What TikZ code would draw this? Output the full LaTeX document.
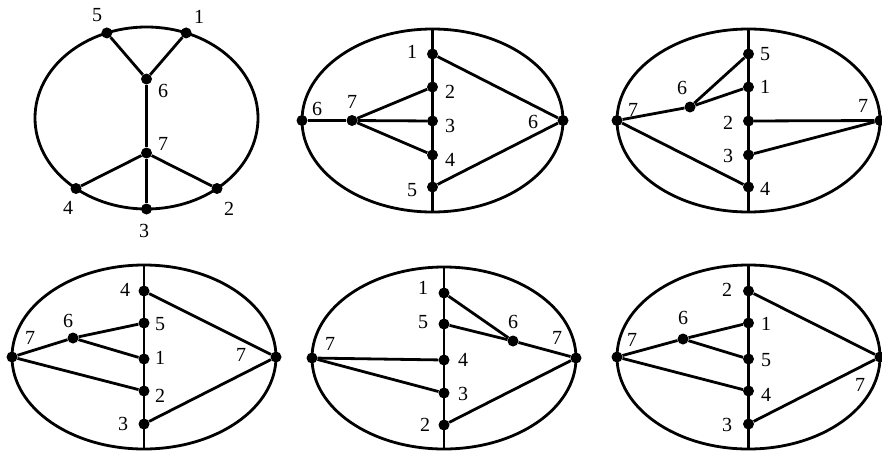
\documentclass[tikz,border=0pt]{standalone}
\usepackage{fontspec}
\setmainfont{Liberation Serif}
\usetikzlibrary{shapes.geometric}

\begin{document}
\begin{tikzpicture}[x=1pt, y=-1pt,
    rim/.style={ellipse, draw, line width=2.8pt, outer sep=0pt, inner sep=0pt},
    big/.style={rim, minimum width=263pt, minimum height=183pt},
    vtx/.style={circle, fill, inner sep=0pt, minimum size=11pt},
    edge/.style={line width=2.8pt},
    lbl/.style={inner sep=1pt, font=\fontsize{20}{20}\selectfont}]

    \useasboundingbox (0,0) rectangle (882,455);

    % panel 1
    \node[rim, minimum width=223pt, minimum height=182pt] (ea) at (146.5,118) {};
    \node[vtx] (a5) at (ea.115) {};
    \node[vtx] (a1) at (ea.65) {};
    \node[vtx] (a4) at (ea.225) {};
    \node[vtx] (a2) at (ea.315) {};
    \node[vtx] (a3) at (ea.south) {};
    \node[vtx] (a6) at (146.5,79) {};
    \node[vtx] (a7) at (146.5,153) {};
    \foreach \u/\v in {a5/a6, a1/a6, a6/a7, a7/a4, a7/a2, a7/a3}
        \draw[edge] (\u) -- (\v);
    \node[lbl] (la5) at (97,15) {5};
    \node[lbl] (la1) at (199,17) {1};
    \node[lbl] (la6) at (163,91) {6};
    \node[lbl] (la7) at (163,144) {7};
    \node[lbl] (la4) at (68,208) {4};
    \node[lbl] (la2) at (229,209) {2};
    \node[lbl] (la3) at (144,231) {3};

    % panel 2
    \node[big, minimum width=261pt] (eb) at (432.5,120.5) {};
    \draw[edge] (eb.north) -- (eb.south);
    \node[vtx] (b1) at (432.5,54) {};
    \node[vtx] (b2) at (432.5,87) {};
    \node[vtx] (b3) at (432.5,121) {};
    \node[vtx] (b4) at (432.5,155) {};
    \node[vtx] (b5) at (432.5,187) {};
    \node[vtx] (b6l) at (eb.west) {};
    \node[vtx] (b6r) at (eb.east) {};
    \node[vtx] (b7) at (352,120.5) {};
    \foreach \u/\v in {b6l/b7, b7/b2, b7/b3, b7/b4, b1/b6r, b5/b6r}
        \draw[edge] (\u) -- (\v);
    \node[lbl] (lb1) at (412,52) {1};
    \node[lbl] (lb2) at (450,92) {2};
    \node[lbl] (lb3) at (450,126) {3};
    \node[lbl] (lb4) at (450,160) {4};
    \node[lbl] (lb5) at (412,190) {5};
    \node[lbl] (lb6l) at (317,109) {6};
    \node[lbl] (lb7) at (352,102) {7};
    \node[lbl] (lb6r) at (533,122) {6};

    % panel 3
    \node[big] (ec) at (748.5,120.5) {};
    \draw[edge] (ec.north) -- (ec.south);
    \node[vtx] (c5) at (748.5,54) {};
    \node[vtx] (c1) at (748.5,87) {};
    \node[vtx] (c2) at (748.5,121) {};
    \node[vtx] (c3) at (748.5,155) {};
    \node[vtx] (c4) at (748.5,187) {};
    \node[vtx] (c6) at (690,107) {};
    \node[vtx] (c7l) at (ec.west) {};
    \node[vtx] (c7r) at (ec.east) {};
    \foreach \u/\v in {c7l/c6, c6/c5, c6/c1, c2/c7r, c3/c7r, c7l/c4}
        \draw[edge] (\u) -- (\v);
    \node[lbl] (lc5) at (765,54) {5};
    \node[lbl] (lc1) at (765,87) {1};
    \node[lbl] (lc2) at (728,123) {2};
    \node[lbl] (lc3) at (728,156) {3};
    \node[lbl] (lc4) at (765,189) {4};
    \node[lbl] (lc6) at (682,88) {6};
    \node[lbl] (lc7l) at (633,110) {7};
    \node[lbl] (lc7r) at (863,106) {7};

    % panel 4
    \node[big, minimum width=264pt, minimum height=184pt] (ed) at (144,357) {};
    \draw[edge] (ed.north) -- (ed.south);
    \node[vtx] (d4) at (144,291) {};
    \node[vtx] (d5) at (144,323) {};
    \node[vtx] (d1) at (144,359) {};
    \node[vtx] (d2) at (144,391) {};
    \node[vtx] (d3) at (144,424) {};
    \node[vtx] (d6) at (73,338) {};
    \node[vtx] (d7l) at (ed.west) {};
    \node[vtx] (d7r) at (ed.east) {};
    \foreach \u/\v in {d7l/d6, d6/d5, d6/d1, d7l/d2, d4/d7r, d3/d7r}
        \draw[edge] (\u) -- (\v);
    \node[lbl] (ld4) at (125,290) {4};
    \node[lbl] (ld5) at (160,324) {5};
    \node[lbl] (ld1) at (160,358) {1};
    \node[lbl] (ld2) at (160,396) {2};
    \node[lbl] (ld3) at (123,424) {3};
    \node[lbl] (ld6) at (68,321) {6};
    \node[lbl] (ld7l) at (30,338) {7};
    \node[lbl] (ld7r) at (241,355) {7};

    % panel 5
    \node[big, minimum width=264pt, minimum height=182pt] (ee) at (444,358) {};
    \draw[edge] (ee.north) -- (ee.south);
    \node[vtx] (e1) at (444,293) {};
    \node[vtx] (e5) at (444,324) {};
    \node[vtx] (e4) at (444,360) {};
    \node[vtx] (e3) at (444,393) {};
    \node[vtx] (e2) at (444,425) {};
    \node[vtx] (e6) at (513,341) {};
    \node[vtx] (e7l) at (ee.west) {};
    \node[vtx] (e7r) at (ee.east) {};
    \foreach \u/\v in {e1/e6, e5/e6, e6/e7r, e7l/e4, e7l/e3, e2/e7r}
        \draw[edge] (\u) -- (\v);
    \node[lbl] (le1) at (423,288) {1};
    \node[lbl] (le5) at (423,322) {5};
    \node[lbl] (le4) at (463,360) {4};
    \node[lbl] (le3) at (463,394) {3};
    \node[lbl] (le2) at (425,425) {2};
    \node[lbl] (le6) at (513,322) {6};
    \node[lbl] (le7r) at (557,338) {7};
    \node[lbl] (le7l) at (330,344) {7};

    % panel 6
    \node[big, minimum height=184pt] (ef) at (748.5,357) {};
    \draw[edge] (ef.north) -- (ef.south);
    \node[vtx] (f2) at (748.5,291) {};
    \node[vtx] (f1) at (748.5,323) {};
    \node[vtx] (f5) at (748.5,359) {};
    \node[vtx] (f4) at (748.5,391) {};
    \node[vtx] (f3) at (748.5,424) {};
    \node[vtx] (f6) at (683,339) {};
    \node[vtx] (f7l) at (ef.west) {};
    \node[vtx] (f7r) at (ef.east) {};
    \foreach \u/\v in {f7l/f6, f6/f1, f6/f5, f7l/f4, f2/f7r, f3/f7r}
        \draw[edge] (\u) -- (\v);
    \node[lbl] (lf2) at (727,290) {2};
    \node[lbl] (lf1) at (766,324) {1};
    \node[lbl] (lf5) at (766,360) {5};
    \node[lbl] (lf4) at (766,395) {4};
    \node[lbl] (lf3) at (727,425) {3};
    \node[lbl] (lf6) at (683,318) {6};
    \node[lbl] (lf7l) at (632,340) {7};
    \node[lbl] (lf7r) at (860,385) {7};
\end{tikzpicture}
\end{document}
